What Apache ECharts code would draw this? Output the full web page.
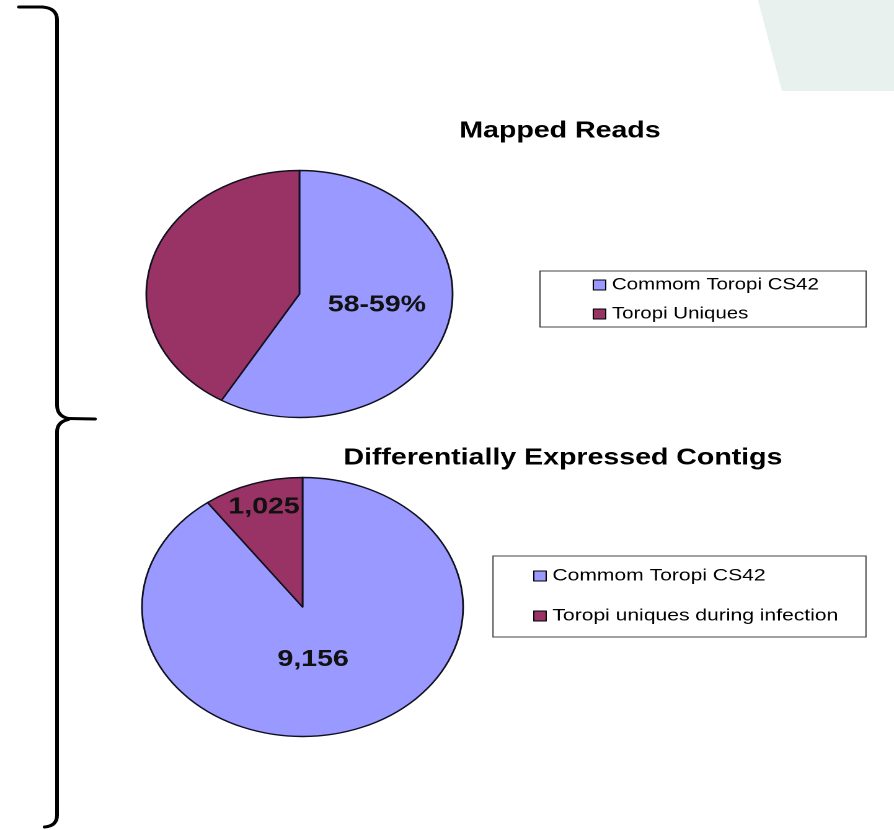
<!DOCTYPE html>
<html>
<head>
<meta charset="utf-8">
<script src="https://cdn.jsdelivr.net/npm/echarts@6/dist/echarts.min.js"></script>
<style>
  html, body { margin: 0; padding: 0; background: #fff; overflow: hidden; }
  /* the slide is laid out on a narrower canvas and stretched horizontally,
     which turns the round pies into the wide ellipses of the slide */
  #stage { width: 721px; height: 830px; transform: scaleX(1.23994); transform-origin: 0 0; }
</style>
</head>
<body>
<div id="stage"></div>
<script>
// Mapped reads: share of reads common with CS42 vs. unique to Toropi (percent)
const mappedCategories = ['Commom Toropi CS42', 'Toropi Uniques'];
const mappedValues = [58.5, 41.5];
const mappedLabels = ['58-59%', ''];

// Differentially expressed contigs (counts)
const contigCategories = ['Commom Toropi CS42', 'Toropi uniques during infection'];
const contigValues = [9156, 1025];

const sliceColors = ['#9999FF', '#993366'];
const chartTitles = ['Mapped Reads', 'Differentially Expressed Contigs'];

const FONT = "'Liberation Sans', Arial, sans-serif";
const fmtCount = v => v.toLocaleString('en-US');

const chart = echarts.init(document.getElementById('stage'), null, { renderer: 'canvas', devicePixelRatio: 2 });

const sliceStyle = { borderColor: '#10101f', borderWidth: 1.4 };
const labelBase = { position: 'inside', color: '#111', fontFamily: FONT, fontWeight: 'bold', fontSize: 23 };

const mappedData = mappedCategories.map((name, i) => ({
  name,
  value: mappedValues[i],
  itemStyle: { color: sliceColors[i] },
  label: Object.assign({}, labelBase, {
    show: mappedLabels[i] !== '',
    formatter: () => mappedLabels[i],
    offset: [0, -6]
  })
}));

const contigOffsets = [[-12.5, -11.5], [-10, -35.5]];
const contigData = contigCategories.map((name, i) => ({
  name,
  value: contigValues[i],
  itemStyle: { color: sliceColors[i] },
  label: Object.assign({}, labelBase, {
    show: true,
    formatter: p => fmtCount(p.value),
    offset: contigOffsets[i]
  })
}));

const pieCommon = {
  type: 'pie',
  startAngle: 90,
  clockwise: true,
  silent: true,
  animation: false,
  labelLine: { show: false },
  itemStyle: sliceStyle,
  emphasis: { disabled: true }
};

const legendCommon = {
  orient: 'vertical',
  selectedMode: false,
  padding: 0,
  icon: 'rect',
  itemWidth: 10,
  itemHeight: 10,
  itemStyle: { borderColor: '#000', borderWidth: 1 }
};
const legendText = size => ({ fontFamily: FONT, fontSize: size, color: '#000', lineHeight: 18 });

// curly brace down the left margin, built from straight runs and quadratic bends
const braceStroke = { fill: null, stroke: '#000', lineWidth: 3, lineCap: 'round' };
const braceLine = (x1, y1, x2, y2) => ({ type: 'line', silent: true, shape: { x1, y1, x2, y2 }, style: braceStroke });
const braceBend = (x1, y1, cpx1, cpy1, x2, y2) => ({ type: 'bezierCurve', silent: true, shape: { x1, y1, cpx1, cpy1, x2, y2 }, style: braceStroke });
const brace = [
  braceLine(15.3, 7, 34, 7),
  braceBend(34, 7, 46, 8, 46, 20),
  braceLine(46, 20, 46, 405),
  braceBend(46, 405, 46, 416, 55, 418.5),
  braceLine(55, 418.5, 76.6, 419),
  braceBend(55, 419.5, 46, 422, 46, 432),
  braceLine(46, 432, 46, 815),
  braceBend(46, 815, 46, 826, 36, 827)
];

const option = {
  backgroundColor: '#fff',
  animation: false,
  legend: [
    Object.assign({}, legendCommon, { data: mappedCategories, left: 478, top: 276, itemGap: 11, textStyle: legendText(16.5) }),
    Object.assign({}, legendCommon, { data: contigCategories, left: 430, top: 567, itemGap: 22, textStyle: legendText(17) })
  ],
  series: [
    Object.assign({}, pieCommon, { name: chartTitles[0], center: [241.5, 294], radius: 123.5, data: mappedData }),
    Object.assign({}, pieCommon, { name: chartTitles[1], center: [244, 607], radius: 129.5, data: contigData })
  ],
  graphic: [
    { type: 'polygon', silent: true, z: -1,
      shape: { points: [[611.3, 0], [721, 0], [721, 91], [630.7, 91]] },
      style: { fill: '#E9F1EF' } },
    ...brace,
    { type: 'rect', silent: true,
      shape: { x: 435.5, y: 271, width: 263, height: 56 },
      style: { fill: null, stroke: '#444', lineWidth: 1 } },
    { type: 'rect', silent: true,
      shape: { x: 397.6, y: 556, width: 300.8, height: 81 },
      style: { fill: null, stroke: '#444', lineWidth: 1 } },
    { type: 'text', silent: true, x: 451.6, y: 131,
      style: { text: chartTitles[0], fill: '#000', font: 'bold 23px ' + FONT, textAlign: 'center', textVerticalAlign: 'middle' } },
    { type: 'text', silent: true, x: 454, y: 458,
      style: { text: chartTitles[1], fill: '#000', font: 'bold 23px ' + FONT, textAlign: 'center', textVerticalAlign: 'middle' } }
  ]
};

chart.setOption(option);
</script>
</body>
</html>
